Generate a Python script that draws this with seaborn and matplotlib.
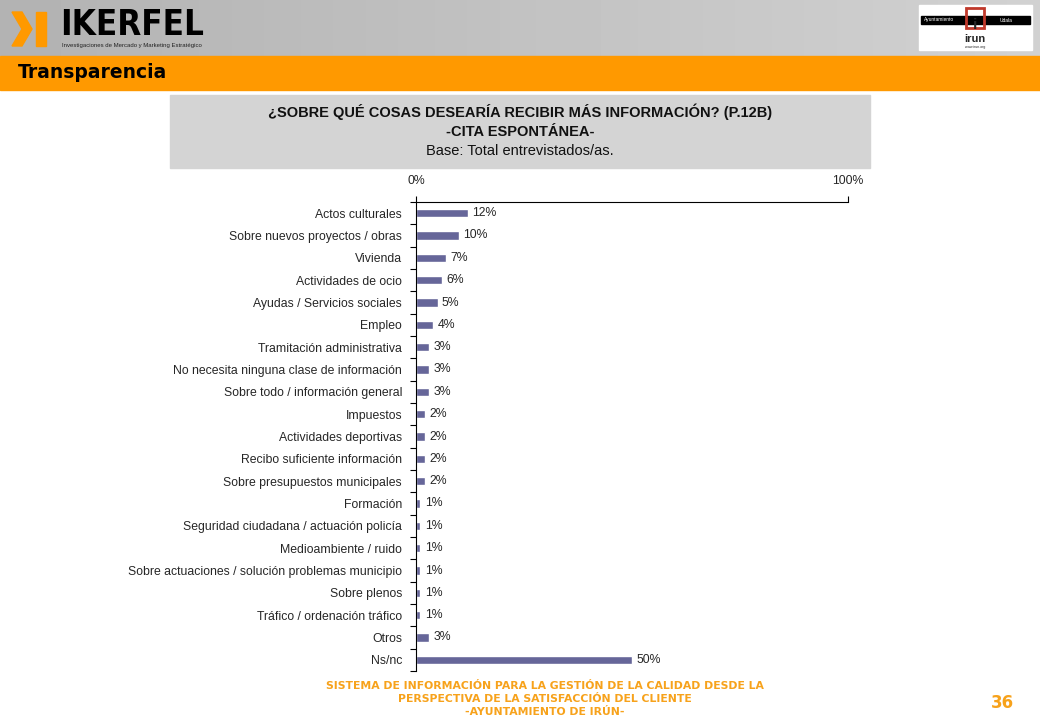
import matplotlib
matplotlib.use("Agg")
import matplotlib.pyplot as plt
import numpy as np
import pandas as pd
import seaborn as sns
from matplotlib.patches import Rectangle, Polygon

categories = [
    "Actos culturales",
    "Sobre nuevos proyectos / obras",
    "Vivienda",
    "Actividades de ocio",
    "Ayudas / Servicios sociales",
    "Empleo",
    "Tramitación administrativa",
    "No necesita ninguna clase de información",
    "Sobre todo / información general",
    "Impuestos",
    "Actividades deportivas",
    "Recibo suficiente información",
    "Sobre presupuestos municipales",
    "Formación",
    "Seguridad ciudadana / actuación policía",
    "Medioambiente / ruido",
    "Sobre actuaciones / solución problemas municipio",
    "Sobre plenos",
    "Tráfico / ordenación tráfico",
    "Otros",
    "Ns/nc",
]
values = [12, 10, 7, 6, 5, 4, 3, 3, 3, 2, 2, 2, 2, 1, 1, 1, 1, 1, 1, 3, 50]

title_lines = ["¿SOBRE QUÉ COSAS DESEARÍA RECIBIR MÁS INFORMACIÓN? (P.12B)",
               "-CITA ESPONTÁNEA-"]
base_text = "Base: Total entrevistados/as."
section = "Transparencia"
footer = ["SISTEMA DE INFORMACIÓN PARA LA GESTIÓN DE LA CALIDAD DESDE LA",
          "PERSPECTIVA DE LA SATISFACCIÓN DEL CLIENTE",
          "-AYUNTAMIENTO DE IRÚN-"]
page = "36"

ORANGE = "#ff9900"
FOOT = "#f7a21b"
BAR = "#666699"

sns.set_style("white")
plt.rcParams["font.family"] = ["Liberation Sans", "DejaVu Sans"]

W, H = 1040, 720
fig = plt.figure(figsize=(W / 100, H / 100), dpi=100)


def px(x0, y0, x1, y1):
    return [x0 / W, 1 - y1 / H, (x1 - x0) / W, (y1 - y0) / H]


# background decorations
bg = fig.add_axes([0, 0, 1, 1])
bg.set_xlim(0, W)
bg.set_ylim(H, 0)
bg.axis("off")
grad = np.linspace(0.70, 0.82, 256).reshape(1, -1)
bg.imshow(grad, extent=(0, W, 56, 0), cmap="gray", vmin=0, vmax=1, aspect="auto")
bg.add_patch(Rectangle((0, 56), W, 34, color=ORANGE))
bg.text(18, 73, section, fontsize=13.5, fontweight="bold", va="center", color="black",
        family="DejaVu Sans")
bg.add_patch(Rectangle((170, 95), 700, 73, color="#d4d4d4"))
bg.text(520, 112, title_lines[0], fontsize=10.5, fontweight="bold", ha="center", va="center",
        color="#111111")
bg.text(520, 132, title_lines[1], fontsize=10.5, fontweight="bold", ha="center", va="center",
        color="#111111")
bg.text(520, 151, base_text, fontsize=10.5, ha="center", va="center", color="#111111")

# IKERFEL logo
bg.add_patch(Polygon([(12, 12), (22, 12), (32, 29), (22, 46), (12, 46), (22, 29)], color=ORANGE))
bg.add_patch(Rectangle((36, 12), 10, 34, color=ORANGE))
bg.text(60, 25, "IKERFEL", fontsize=25, fontweight="black", va="center", color="black",
        family="DejaVu Sans", stretch="condensed")
bg.text(62, 45, "Investigaciones de Mercado y Marketing Estratégico", fontsize=4.3,
        va="center", color="#222222")

# Irun logo
bg.add_patch(Rectangle((919, 5), 113, 45, color="white"))
bg.add_patch(Rectangle((921, 16), 109, 8, color="black"))
bg.text(924, 20, "Ayuntamiento", fontsize=3.5, color="white", va="center")
bg.text(1000, 20, "Udala", fontsize=3.5, color="white", va="center")
bg.add_patch(Rectangle((966, 8), 18, 20, color="#c0392b", fill=False, lw=2))
bg.text(975, 25, "i", fontsize=11, fontweight="bold", ha="center", va="center")
bg.text(975, 39, "irun", fontsize=8, fontweight="bold", ha="center", va="center")
bg.text(975, 47, "www.irun.org", fontsize=2.5, ha="center", va="center")

# footer
for i, line in enumerate(footer):
    bg.text(545, 686 + 13 * i, line, fontsize=7.8, fontweight="bold", color=FOOT,
            ha="center", va="center", family="DejaVu Sans")
bg.text(1002, 703, page, fontsize=12, fontweight="bold", color=FOOT, ha="center",
        va="center", family="DejaVu Sans")

# chart
ax = fig.add_axes(px(416, 202, 848, 671))
df = pd.DataFrame({"cat": categories, "val": values})
sns.barplot(data=df, x="val", y="cat", color=BAR, saturation=1, width=0.38, ax=ax)
ax.set_xlim(0, 100)
ax.set_ylim(len(categories) - 0.5, -0.5)
ax.set_xlabel("")
ax.set_ylabel("")
ax.xaxis.tick_top()
ax.set_xticks([0, 100])
ax.set_xticklabels(["0%", "100%"], fontsize=8.8)
ax.tick_params(axis="x", top=True, bottom=False, length=4, width=0.8, direction="out",
               pad=7, color="black")
ax.set_yticks(range(len(categories)))
ax.set_yticklabels(categories, fontsize=8.8)
ax.tick_params(axis="y", which="major", left=False, length=0, pad=10)
ax.set_yticks(np.arange(-0.5, len(categories)), minor=True)
ax.tick_params(axis="y", which="minor", left=True, length=4, width=0.8, direction="out",
               color="black")
for side in ["right", "bottom"]:
    ax.spines[side].set_visible(False)
for side in ["left", "top"]:
    ax.spines[side].set_color("black")
    ax.spines[side].set_linewidth(0.8)
for i, v in enumerate(values):
    ax.text(v + 1.0, i, f"{v}%", fontsize=8.8, va="center", ha="left")

fig.savefig("out.png", dpi=100)
